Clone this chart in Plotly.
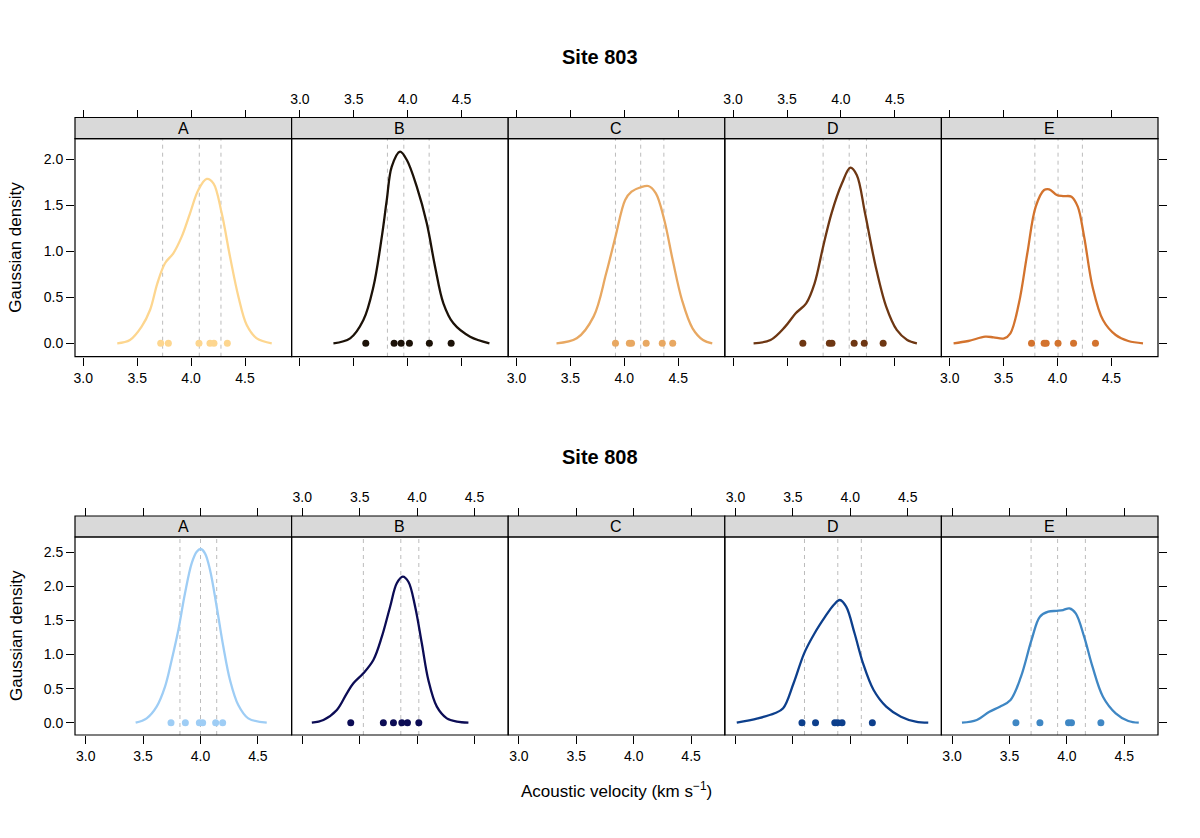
import plotly.graph_objects as go

# ---------------- data ----------------
panels = ["A", "B", "C", "D", "E"]
tick_vals = [3.0, 3.5, 4.0, 4.5]
tick_text = ["3.0", "3.5", "4.0", "4.5"]
y_ticks_803 = [0.0, 0.5, 1.0, 1.5, 2.0]
y_ticks_808 = [0.0, 0.5, 1.0, 1.5, 2.0, 2.5]

# Site 803 density curves (x, density), rug points, quartile lines
s803_A_x = [3.315, 3.433, 3.541, 3.619, 3.687, 3.758, 3.835, 3.913, 3.990, 4.067, 4.145, 4.207, 4.284, 4.361, 4.439, 4.516, 4.609, 4.748]
s803_A_y = [0, 0.036, 0.181, 0.362, 0.652, 0.870, 0.978, 1.159, 1.413, 1.666, 1.786, 1.739, 1.413, 0.942, 0.507, 0.199, 0.054, 0]
s803_A_pts = [3.718, 3.789, 4.073, 4.175, 4.212, 4.336]
s803_A_q = [3.736, 4.076, 4.277]

s803_B_x = [3.311, 3.466, 3.589, 3.682, 3.760, 3.806, 3.852, 3.929, 3.992, 4.084, 4.177, 4.254, 4.331, 4.424, 4.579, 4.758]
s803_B_y = [0, 0.054, 0.253, 0.615, 1.159, 1.558, 1.920, 2.083, 1.992, 1.702, 1.304, 0.833, 0.435, 0.217, 0.072, 0]
s803_B_pts = [3.611, 3.874, 3.939, 4.016, 4.201, 4.403]
s803_B_q = [3.812, 3.964, 4.199]

s803_C_x = [3.371, 3.559, 3.715, 3.832, 3.918, 4.008, 4.067, 4.152, 4.223, 4.293, 4.371, 4.449, 4.535, 4.633, 4.730, 4.816]
s803_C_y = [0, 0.054, 0.290, 0.761, 1.159, 1.558, 1.648, 1.696, 1.710, 1.630, 1.340, 0.905, 0.471, 0.163, 0.036, 0]
s803_C_pts = [3.918, 4.047, 4.067, 4.203, 4.352, 4.449]
s803_C_q = [3.918, 4.152, 4.367]

s803_D_x = [3.190, 3.347, 3.483, 3.581, 3.678, 3.756, 3.835, 3.913, 4.010, 4.088, 4.147, 4.224, 4.323, 4.420, 4.518, 4.615, 4.705]
s803_D_y = [0, 0.036, 0.181, 0.326, 0.435, 0.652, 1.050, 1.413, 1.739, 1.909, 1.830, 1.413, 0.833, 0.398, 0.145, 0.036, 0]
s803_D_pts = [3.647, 3.893, 3.917, 4.123, 4.217, 4.392]
s803_D_q = [3.835, 4.077, 4.237]

s803_E_x = [3.036, 3.173, 3.329, 3.407, 3.505, 3.563, 3.642, 3.720, 3.798, 3.876, 3.923, 3.993, 4.052, 4.130, 4.188, 4.247, 4.325, 4.422, 4.540, 4.657, 4.793]
s803_E_y = [0, 0.025, 0.072, 0.065, 0.054, 0.109, 0.435, 0.978, 1.485, 1.666, 1.674, 1.612, 1.600, 1.594, 1.485, 1.159, 0.615, 0.253, 0.090, 0.025, 0]
s803_E_pts = [3.759, 3.876, 3.895, 4.005, 4.149, 4.352]
s803_E_q = [3.790, 4.005, 4.231]

# Site 808 (panel C has no data)
s808_A_x = [3.435, 3.531, 3.618, 3.691, 3.749, 3.807, 3.865, 3.923, 3.967, 4.002, 4.039, 4.083, 4.141, 4.199, 4.257, 4.329, 4.416, 4.577]
s808_A_y = [0, 0.064, 0.235, 0.528, 0.919, 1.359, 1.897, 2.337, 2.507, 2.547, 2.484, 2.239, 1.701, 1.114, 0.626, 0.260, 0.064, 0]
s808_A_pts = [3.743, 3.868, 3.990, 4.019, 4.132, 4.193]
s808_A_q = [3.821, 4.000, 4.141]

s808_B_x = [3.083, 3.184, 3.301, 3.388, 3.445, 3.532, 3.619, 3.693, 3.765, 3.823, 3.875, 3.924, 3.983, 4.041, 4.098, 4.172, 4.259, 4.346, 4.447]
s808_B_y = [0, 0.040, 0.186, 0.431, 0.578, 0.724, 0.919, 1.261, 1.701, 2.044, 2.141, 2.067, 1.701, 1.164, 0.626, 0.235, 0.064, 0.015, 0]
s808_B_pts = [3.422, 3.706, 3.794, 3.867, 3.916, 4.015]
s808_B_q = [3.532, 3.858, 4.015]

s808_D_x = [3.011, 3.194, 3.341, 3.415, 3.506, 3.598, 3.689, 3.781, 3.855, 3.909, 3.964, 4.037, 4.111, 4.203, 4.313, 4.441, 4.570, 4.679]
s808_D_y = [0, 0.064, 0.138, 0.211, 0.578, 1.017, 1.311, 1.554, 1.726, 1.799, 1.701, 1.311, 0.871, 0.479, 0.235, 0.088, 0.015, 0]
s808_D_pts = [3.579, 3.697, 3.865, 3.891, 3.928, 4.192]
s808_D_q = [3.601, 3.891, 4.096]

s808_E_x = [3.086, 3.215, 3.325, 3.416, 3.509, 3.600, 3.692, 3.765, 3.838, 3.911, 3.967, 4.022, 4.077, 4.150, 4.223, 4.314, 4.425, 4.535, 4.626]
s808_E_y = [0, 0.040, 0.161, 0.235, 0.333, 0.675, 1.213, 1.554, 1.628, 1.640, 1.652, 1.677, 1.604, 1.261, 0.821, 0.381, 0.138, 0.025, 0]
s808_E_pts = [3.556, 3.765, 4.014, 4.040, 4.296]
s808_E_q = [3.688, 3.919, 4.161]

colors_803 = ["#fdd68f", "#1c1208", "#e8a862", "#6e3713", "#d3732e"]
colors_808 = ["#9ecdf5", "#0c0c55", None, "#0d3f8c", "#3f87c4"]

site803 = {
    "A": (s803_A_x, s803_A_y, s803_A_pts, s803_A_q),
    "B": (s803_B_x, s803_B_y, s803_B_pts, s803_B_q),
    "C": (s803_C_x, s803_C_y, s803_C_pts, s803_C_q),
    "D": (s803_D_x, s803_D_y, s803_D_pts, s803_D_q),
    "E": (s803_E_x, s803_E_y, s803_E_pts, s803_E_q),
}
site808 = {
    "A": (s808_A_x, s808_A_y, s808_A_pts, s808_A_q),
    "B": (s808_B_x, s808_B_y, s808_B_pts, s808_B_q),
    "D": (s808_D_x, s808_D_y, s808_D_pts, s808_D_q),
    "E": (s808_E_x, s808_E_y, s808_E_pts, s808_E_q),
}

# ---------------- layout geometry (pixels) ----------------
W, H = 1200, 838
FONT = "Liberation Sans, Arial, Helvetica, sans-serif"
PW = 216.6
col_left = [75 + k * PW for k in range(5)]

rows = [
    dict(site=site803, colors=colors_803, title="Site 803", title_y=57,
         strip_top=117.5, plot_top=138.7, plot_bot=356.7,
         xr=[3.0 - 8.3 / 107.8, 3.0 + (PW - 8.3) / 107.8],
         yr=[-(356.7 - 343.3) / 92.0, (343.3 - 138.7) / 92.0],
         yticks=y_ticks_803, yname="y", yright="y3", xoff=1, xtopoff=11),
    dict(site=site808, colors=colors_808, title="Site 808", title_y=457,
         strip_top=516, plot_top=537, plot_bot=735,
         xr=[3.0 - 10.7 / 114.8, 3.0 + (PW - 10.7) / 114.8],
         yr=[-(735 - 722.7) / 68.2, (722.7 - 537) / 68.2],
         yticks=y_ticks_808, yname="y2", yright="y4", xoff=6, xtopoff=16),
]


def px(x):
    return x / W


def py(y):
    return 1 - y / H


fig = go.Figure()
layout = dict(
    width=W, height=H, margin=dict(l=0, r=0, t=0, b=0),
    paper_bgcolor="white", plot_bgcolor="rgba(0,0,0,0)",
    showlegend=False, font=dict(family=FONT, color="black", size=14),
)
shapes = []
annotations = []

tick_common = dict(ticks="outside", ticklen=8, tickwidth=1, tickcolor="black",
                   showgrid=False, zeroline=False, showline=False,
                   tickfont=dict(size=14, family=FONT, color="black"))


def axname(n):
    return "x" if n == 1 else f"x{n}"


for r, row in enumerate(rows):
    ydom = [py(row["plot_bot"]), py(row["plot_top"])]
    yname = row["yname"]
    ykey = "yaxis" if yname == "y" else "yaxis" + yname[1:]
    layout[ykey] = dict(domain=ydom, range=row["yr"], autorange=False, anchor="x" if r == 0 else "x6",
                        side="left", tickvals=row["yticks"],
                        ticktext=[f"{v:.1f}" for v in row["yticks"]], **tick_common)
    rkey = "yaxis" + row["yright"][1:]
    layout[rkey] = dict(overlaying=yname, range=row["yr"], autorange=False, anchor="free",
                        position=px(col_left[4] + PW), side="right", tickvals=row["yticks"],
                        showticklabels=False, **tick_common)

    for k, p in enumerate(panels):
        n = row["xoff"] + k
        nt = row["xtopoff"] + k
        xa = axname(n)
        dom = [px(col_left[k]), px(col_left[k] + PW)]
        layout["xaxis" if n == 1 else f"xaxis{n}"] = dict(
            domain=dom, range=row["xr"], autorange=False, anchor=yname, side="bottom",
            tickvals=tick_vals, ticktext=tick_text, showticklabels=(k % 2 == 0), **tick_common)
        layout[f"xaxis{nt}"] = dict(
            overlaying=xa, range=row["xr"], autorange=False, anchor="free",
            position=py(row["strip_top"]), side="top",
            tickvals=tick_vals, ticktext=tick_text, showticklabels=(k % 2 == 1), **tick_common)

        # strip
        shapes.append(dict(type="rect", xref="paper", yref="paper",
                           x0=dom[0], x1=dom[1], y0=py(row["plot_top"]), y1=py(row["strip_top"]),
                           fillcolor="#d9d9d9", line=dict(color="black", width=1.2), layer="above"))
        annotations.append(dict(text=p, xref="paper", yref="paper", x=(dom[0] + dom[1]) / 2,
                                y=py((row["strip_top"] + row["plot_top"]) / 2), showarrow=False,
                                xanchor="center", yanchor="middle", font=dict(size=16, family=FONT, color="black")))
        # panel box
        shapes.append(dict(type="rect", xref="paper", yref="paper",
                           x0=dom[0], x1=dom[1], y0=ydom[0], y1=ydom[1],
                           line=dict(color="black", width=1.2), layer="above"))

        if p not in row["site"]:
            fig.add_trace(go.Scatter(x=[None], y=[None], xaxis=xa, yaxis=yname,
                                     mode="markers", hoverinfo="skip"))
            continue
        cx, cy, pts, q = row["site"][p]
        col = row["colors"][k]
        for qv in q:
            shapes.append(dict(type="line", xref=xa, yref=f"{yname} domain", x0=qv, x1=qv, y0=0, y1=1,
                               line=dict(color="#bcbcbc", width=1, dash="4px,4px"), layer="below"))
        fig.add_trace(go.Scatter(x=cx, y=cy, xaxis=xa, yaxis=yname, mode="lines",
                                 line=dict(color=col, width=2.3, shape="spline", smoothing=1.0),
                                 hoverinfo="skip"))
        fig.add_trace(go.Scatter(x=pts, y=[0] * len(pts), xaxis=xa, yaxis=yname, mode="markers",
                                 marker=dict(color=col, size=7, line=dict(width=0)), hoverinfo="skip"))

    annotations.append(dict(text=f"<b>{row['title']}</b>", xref="paper", yref="paper", x=px(600),
                            y=py(row["title_y"]), showarrow=False, xanchor="center", yanchor="middle",
                            font=dict(size=20, family=FONT, color="black")))
    annotations.append(dict(text="Gaussian density", xref="paper", yref="paper", x=px(16),
                            y=py((row["plot_top"] + row["plot_bot"]) / 2), showarrow=False,
                            textangle=-90, xanchor="center", yanchor="middle",
                            font=dict(size=17, family=FONT, color="black")))

annotations.append(dict(text="Acoustic velocity (km s<sup>\u22121</sup>)", xref="paper", yref="paper",
                        x=px(616), y=py(790), showarrow=False, xanchor="center", yanchor="middle",
                        font=dict(size=17, family=FONT, color="black")))

for row in rows:
    for k in range(5):
        nt = row["xtopoff"] + k
        fig.add_trace(go.Scatter(x=[None], y=[None], xaxis=f"x{nt}", yaxis=row["yname"],
                                 mode="markers", hoverinfo="skip"))
    fig.add_trace(go.Scatter(x=[None], y=[None], xaxis="x" if row["yname"] == "y" else "x6",
                             yaxis=row["yright"], mode="markers", hoverinfo="skip"))

layout["shapes"] = shapes
layout["annotations"] = annotations
fig.update_layout(**layout)

fig.write_html("out.html", config={"displayModeBar": False},
               post_script="document.body.style.margin='0';")
